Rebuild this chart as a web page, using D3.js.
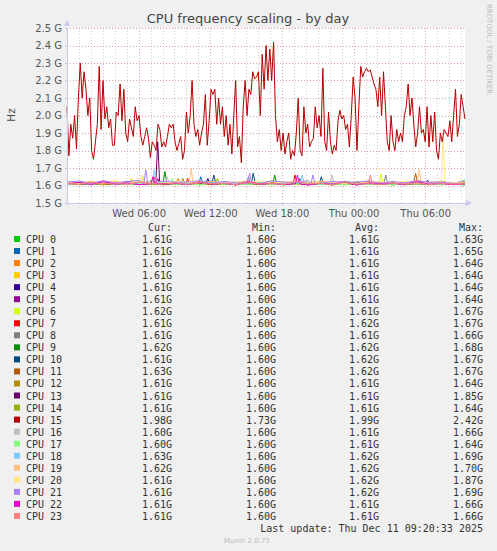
<!DOCTYPE html>
<html>
<head>
<meta charset="utf-8">
<script src="https://cdn.jsdelivr.net/npm/d3@7"></script>
<style>
  body { margin: 0; background: #f0f0f0; }
  text { font-family: "DejaVu Sans", sans-serif; }
  .mono { font-family: "DejaVu Sans Mono", monospace; font-size: 10px; fill: #333; }
</style>
</head>
<body>
<script>
const cpuNames = d3.range(24).map(i => 'CPU ' + i);
const colors = ['#00CC00', '#0066B3', '#FF8000', '#FFCC00', '#330099', '#990099', '#CCFF00', '#FF0000',
  '#808080', '#008F00', '#00487D', '#B35A00', '#B38F00', '#6B006B', '#8FB300', '#B30000',
  '#BEBEBE', '#80FF80', '#80C9FF', '#FFC080', '#FFE680', '#AA80FF', '#EE00CC', '#FF8080'];

const curVals = ['1.61G', '1.61G', '1.61G', '1.61G', '1.61G', '1.61G', '1.62G', '1.61G', '1.61G', '1.62G', '1.61G', '1.63G',
  '1.61G', '1.61G', '1.61G', '1.98G', '1.60G', '1.60G', '1.63G', '1.62G', '1.61G', '1.61G', '1.61G', '1.61G'];
const minVals = ['1.60G', '1.60G', '1.60G', '1.60G', '1.60G', '1.60G', '1.60G', '1.60G', '1.60G', '1.60G', '1.60G', '1.60G',
  '1.60G', '1.60G', '1.60G', '1.73G', '1.60G', '1.60G', '1.60G', '1.60G', '1.60G', '1.60G', '1.60G', '1.60G'];
const avgVals = ['1.61G', '1.61G', '1.61G', '1.61G', '1.61G', '1.61G', '1.61G', '1.62G', '1.61G', '1.62G', '1.62G', '1.62G',
  '1.61G', '1.61G', '1.61G', '1.99G', '1.61G', '1.61G', '1.62G', '1.62G', '1.62G', '1.62G', '1.61G', '1.61G'];
const maxVals = ['1.63G', '1.65G', '1.64G', '1.64G', '1.64G', '1.64G', '1.67G', '1.67G', '1.66G', '1.68G', '1.67G', '1.67G',
  '1.64G', '1.85G', '1.64G', '2.42G', '1.66G', '1.64G', '1.69G', '1.70G', '1.87G', '1.69G', '1.66G', '1.66G'];

// CPU 15, GHz, evenly spaced from Wed 00:00 to Thu 09:20
const cpu15 = [2.05, 1.77, 1.95, 1.87, 2.0, 1.81, 2.1, 2.3, 2.1, 2.25, 2.15, 2.0, 2.1, 1.8, 1.75, 1.85, 1.95, 2.28, 1.92, 2.2,
  1.98, 2.05, 1.93, 1.98, 1.83, 1.83, 2.02, 2.0, 2.18, 1.97, 2.15, 1.9, 1.85, 1.98, 1.93, 1.88, 2.05, 1.97, 2.0, 1.88,
  1.83, 1.88, 1.93, 1.87, 1.76, 1.85, 1.83, 1.8, 1.95, 1.92, 1.82, 1.85, 1.82, 1.88, 1.95, 1.93, 1.95, 1.85, 1.8, 1.84,
  1.88, 1.75, 1.8, 2.02, 1.9, 2.0, 2.2, 1.95, 1.88, 1.92, 1.83, 1.9, 1.95, 2.12, 1.83, 1.97, 2.15, 2.12, 2.15, 1.95,
  2.1, 1.95, 2.05, 1.88, 2.0, 1.83, 1.95, 1.78, 2.0, 2.2, 1.82, 1.88, 1.73, 2.05, 2.2, 2.0, 2.15, 2.12, 2.25, 2.21,
  2.22, 2.25, 2.0, 2.35, 2.15, 2.4, 2.2, 2.38, 2.2, 2.42, 2.0, 1.85, 1.92, 1.8, 1.9, 1.78, 1.85, 1.9, 1.75, 1.8,
  1.77, 1.9, 2.1, 1.8, 1.77, 2.05, 1.9, 1.95, 1.82, 1.85, 1.87, 2.05, 1.93, 2.0, 1.88, 2.27, 1.85, 1.8, 2.02, 1.85,
  1.78, 1.83, 1.8, 1.97, 2.03, 1.98, 2.0, 1.92, 1.95, 1.82, 2.0, 2.22, 2.1, 1.8, 2.05, 2.28, 2.22, 2.25, 2.27, 2.25,
  2.26, 2.22, 2.18, 2.15, 2.05, 2.22, 2.0, 2.25, 2.05, 1.85, 1.8, 2.0, 1.85, 1.8, 1.92, 1.85, 1.9, 1.85, 2.0, 2.05,
  2.18, 2.0, 2.1, 1.95, 1.82, 1.9, 2.05, 1.9, 1.92, 1.85, 2.05, 1.82, 2.0, 1.85, 2.02, 1.8, 1.75, 1.9, 1.85, 1.92,
  1.9, 1.88, 1.97, 1.85, 2.0, 2.15, 1.88, 1.95, 2.12, 2.05, 1.98];

// other CPUs, MHz, evenly spaced over the same period
const cpu0 = [1610, 1605, 1615, 1612, 1608, 1618, 1612, 1614, 1606, 1610, 1618, 1604, 1612, 1616, 1608, 1606, 1615, 1609, 1604, 1612, 1614, 1607, 1611, 1605, 1616, 1608, 1612, 1603, 1614, 1610, 1606, 1614, 1608, 1610];
const cpu1 = [1608, 1612, 1604, 1614, 1610, 1606, 1615, 1609, 1615, 1605, 1612, 1616, 1607, 1611, 1604, 1614, 1609, 1606, 1613, 1616, 1605, 1612, 1608, 1615, 1604, 1610, 1614, 1606, 1611, 1607, 1614, 1605, 1610, 1609];
const cpu2 = [1612, 1616, 1608, 1605, 1617, 1610, 1606, 1614, 1609, 1618, 1605, 1611, 1607, 1615, 1604, 1612, 1608, 1616, 1606, 1610, 1604, 1614, 1609, 1612, 1605, 1617, 1608, 1611, 1606, 1615, 1609, 1604, 1612, 1610];
const cpu3 = [1606, 1610, 1616, 1608, 1612, 1618, 1605, 1611, 1615, 1604, 1610, 1607, 1614, 1605, 1612, 1609, 1617, 1606, 1611, 1604, 1615, 1608, 1612, 1605, 1610, 1616, 1607, 1611, 1609, 1618, 1604, 1612, 1608, 1610];
const cpu4 = [1604, 1610, 1606, 1615, 1609, 1612, 1605, 1616, 1608, 1611, 1606, 1618, 1604, 1612, 1607, 1615, 1605, 1610, 1608, 1614, 1606, 1611, 1604, 1616, 1609, 1607, 1612, 1605, 1610, 1606, 1617, 1608, 1611, 1610];
const cpu5 = [1610, 1606, 1612, 1604, 1616, 1608, 1611, 1618, 1605, 1610, 1607, 1614, 1606, 1612, 1604, 1616, 1609, 1611, 1606, 1613, 1605, 1610, 1608, 1617, 1604, 1612, 1607, 1610, 1606, 1614, 1605, 1611, 1608, 1610];
const cpu6 = [1612, 1608, 1617, 1605, 1611, 1607, 1619, 1604, 1612, 1609, 1615, 1606, 1610, 1605, 1616, 1608, 1612, 1604, 1618, 1607, 1611, 1606, 1614, 1605, 1610, 1608, 1619, 1604, 1612, 1607, 1611, 1606, 1615, 1620];
const cpu7 = [1615, 1608, 1618, 1610, 1605, 1620, 1612, 1607, 1618, 1609, 1622, 1606, 1618, 1611, 1605, 1620, 1610, 1615, 1607, 1622, 1612, 1608, 1618, 1605, 1620, 1611, 1607, 1618, 1610, 1622, 1606, 1615, 1609, 1610];
const cpu8 = [1608, 1612, 1606, 1616, 1609, 1611, 1605, 1618, 1607, 1612, 1604, 1616, 1609, 1610, 1606, 1619, 1605, 1612, 1608, 1614, 1606, 1611, 1604, 1617, 1609, 1607, 1619, 1605, 1612, 1608, 1611, 1606, 1614, 1610];
const cpu9 = [1620, 1610, 1622, 1612, 1608, 1624, 1615, 1610, 1625, 1612, 1618, 1609, 1622, 1611, 1607, 1624, 1612, 1625, 1609, 1620, 1611, 1615, 1608, 1624, 1612, 1618, 1610, 1622, 1609, 1615, 1611, 1624, 1610, 1620];
const cpu10 = [1612, 1620, 1609, 1622, 1611, 1615, 1608, 1624, 1612, 1618, 1609, 1622, 1625, 1615, 1610, 1624, 1612, 1620, 1608, 1622, 1611, 1624, 1609, 1618, 1612, 1622, 1610, 1615, 1608, 1624, 1612, 1620, 1609, 1610];
const cpu11 = [1615, 1622, 1610, 1624, 1612, 1620, 1608, 1625, 1611, 1618, 1609, 1624, 1612, 1620, 1610, 1622, 1609, 1624, 1612, 1618, 1608, 1625, 1611, 1620, 1609, 1622, 1612, 1618, 1610, 1625, 1611, 1620, 1609, 1630];
const cpu12 = [1606, 1612, 1608, 1615, 1605, 1616, 1609, 1611, 1604, 1618, 1607, 1612, 1605, 1616, 1609, 1611, 1606, 1617, 1604, 1612, 1608, 1615, 1605, 1611, 1609, 1616, 1606, 1612, 1604, 1618, 1608, 1611, 1606, 1610];
const cpu13 = [1608, 1611, 1606, 1615, 1609, 1612, 1605, 1614, 1608, 1612, 1606, 1614, 1609, 1611, 1605, 1616, 1608, 1612, 1606, 1615, 1604, 1611, 1609, 1613, 1605, 1616, 1608, 1612, 1606, 1611, 1609, 1614, 1605, 1610];
const cpu14 = [1610, 1606, 1614, 1608, 1616, 1605, 1611, 1609, 1615, 1606, 1612, 1604, 1618, 1608, 1611, 1606, 1614, 1605, 1610, 1616, 1608, 1611, 1604, 1615, 1609, 1612, 1606, 1617, 1605, 1611, 1608, 1614, 1606, 1610];
const cpu16 = [1606, 1612, 1608, 1616, 1605, 1615, 1609, 1611, 1618, 1607, 1612, 1605, 1616, 1609, 1611, 1606, 1618, 1604, 1612, 1608, 1615, 1605, 1619, 1609, 1612, 1606, 1616, 1604, 1611, 1608, 1615, 1605, 1610, 1600];
const cpu17 = [1608, 1614, 1606, 1612, 1616, 1605, 1611, 1609, 1618, 1606, 1612, 1604, 1615, 1608, 1611, 1606, 1616, 1605, 1612, 1609, 1617, 1606, 1611, 1604, 1614, 1608, 1612, 1605, 1616, 1609, 1611, 1606, 1612, 1600];
const cpu18 = [1615, 1622, 1610, 1624, 1612, 1620, 1609, 1626, 1611, 1622, 1608, 1625, 1612, 1618, 1610, 1624, 1609, 1622, 1612, 1626, 1608, 1620, 1611, 1622, 1609, 1618, 1612, 1624, 1610, 1622, 1611, 1620, 1609, 1630];
const cpu19 = [1620, 1612, 1624, 1615, 1626, 1610, 1625, 1618, 1622, 1611, 1628, 1615, 1624, 1612, 1620, 1626, 1610, 1622, 1615, 1625, 1612, 1624, 1618, 1620, 1611, 1626, 1615, 1622, 1612, 1628, 1620, 1624, 1612, 1620];
const cpu20 = [1615, 1624, 1610, 1622, 1626, 1612, 1628, 1620, 1611, 1625, 1615, 1622, 1610, 1624, 1612, 1620, 1626, 1611, 1622, 1615, 1628, 1612, 1620, 1610, 1624, 1615, 1622, 1612, 1626, 1620, 1611, 1625, 1615, 1610];
const cpu21 = [1620, 1626, 1612, 1628, 1615, 1622, 1630, 1612, 1626, 1618, 1620, 1628, 1611, 1624, 1615, 1630, 1612, 1626, 1620, 1615, 1628, 1611, 1624, 1618, 1620, 1626, 1612, 1622, 1615, 1628, 1618, 1620, 1611, 1610];
const cpu22 = [1610, 1618, 1606, 1622, 1608, 1615, 1605, 1624, 1611, 1612, 1606, 1620, 1608, 1612, 1605, 1622, 1609, 1611, 1606, 1624, 1604, 1612, 1608, 1620, 1605, 1615, 1609, 1612, 1606, 1622, 1608, 1611, 1605, 1610];
const cpu23 = [1612, 1606, 1618, 1609, 1615, 1605, 1620, 1611, 1608, 1614, 1606, 1622, 1609, 1612, 1605, 1618, 1608, 1611, 1606, 1624, 1609, 1612, 1605, 1618, 1608, 1624, 1606, 1611, 1609, 1615, 1605, 1612, 1608, 1610];

// short peaks of the other CPUs: [cpu index, hour after Wed 00:00, MHz]
const peaks = [
  [0, 7.0, 1630], [1, 11.2, 1650], [1, 19.5, 1640], [2, 9.3, 1640], [3, 5.4, 1640], [3, 29.6, 1635],
  [4, 11.8, 1640], [4, 30.2, 1630], [5, 7.6, 1640], [6, 6.4, 1650], [6, 26.3, 1667], [7, 10.1, 1640],
  [7, 19.1, 1660], [8, 15.2, 1650], [8, 26.7, 1660], [9, 8.2, 1680], [9, 17.4, 1660], [10, 12.3, 1660],
  [10, 15.6, 1670], [10, 21.3, 1650], [11, 7.3, 1650], [11, 29.2, 1670], [12, 9.7, 1640], [13, 7.6, 1850],
  [14, 12.6, 1640], [16, 8.4, 1650], [16, 22.2, 1660], [17, 8.8, 1640], [18, 7.3, 1690], [18, 19.7, 1660],
  [19, 10.4, 1700], [19, 29.5, 1690], [20, 6.3, 1660], [20, 31.5, 1870], [21, 6.6, 1690], [21, 15.3, 1670],
  [21, 20.6, 1660], [22, 7.2, 1650], [22, 19.3, 1660], [23, 25.4, 1660]];

const others = [cpu0, cpu1, cpu2, cpu3, cpu4, cpu5, cpu6, cpu7, cpu8, cpu9, cpu10, cpu11, cpu12, cpu13, cpu14, null,
  cpu16, cpu17, cpu18, cpu19, cpu20, cpu21, cpu22, cpu23];

const yTicks = [1.5, 1.6, 1.7, 1.8, 1.9, 2.0, 2.1, 2.2, 2.3, 2.4, 2.5];

const W = 497, H = 551;
const plot = { left: 67, right: 465, top: 28, bottom: 203 };
const t0 = new Date(2025, 11, 10, 0, 0);
const t1 = new Date(2025, 11, 11, 9, 20);
const HOUR = 3600 * 1000;

const svg = d3.select('body').append('svg').attr('width', W).attr('height', H);
svg.append('rect').attr('width', W).attr('height', H).attr('fill', '#f0f0f0');

const x = d3.scaleTime().domain([t0, t1]).range([plot.left, plot.right]);
const y = d3.scaleLinear().domain([1.5, 2.5]).range([plot.bottom, plot.top]);

svg.append('rect')
  .attr('x', plot.left).attr('y', plot.top)
  .attr('width', plot.right - plot.left).attr('height', plot.bottom - plot.top)
  .attr('fill', '#fff');

// grid
const hours = d3.timeHour.range(d3.timeHour.offset(t0, 1), t1);
svg.append('g').selectAll('line').data(hours).enter().append('line')
  .attr('x1', d => Math.round(x(d)) + 0.5).attr('x2', d => Math.round(x(d)) + 0.5)
  .attr('y1', plot.top).attr('y2', plot.bottom)
  .attr('stroke', d => d.getHours() % 6 === 0 ? '#e0a8a8' : '#dcc8c8')
  .attr('stroke-dasharray', '1,2');
svg.append('g').selectAll('line').data(yTicks.slice(1)).enter().append('line')
  .attr('x1', plot.left).attr('x2', plot.right)
  .attr('y1', d => Math.round(y(d)) + 0.5).attr('y2', d => Math.round(y(d)) + 0.5)
  .attr('stroke', '#e0a0a0').attr('stroke-dasharray', '1,2');

// series
const span = t1 - t0;
const line = d3.line().x(d => x(d[0])).y(d => y(d[1]));
others.forEach((arr, i) => {
  if (!arr) return;
  let pts = arr.map((v, j) => [+t0 + j * span / (arr.length - 1), v / 1000]);
  peaks.filter(p => p[0] === i).forEach(p => {
    const tc = +t0 + p[1] * HOUR;
    pts.push([tc - HOUR / 6, 1.61], [tc, p[2] / 1000], [tc + HOUR / 6, 1.61]);
  });
  pts = pts.filter((p, k, all) => !peaks.some(q => q[0] === i && Math.abs(+t0 + q[1] * HOUR - p[0]) < HOUR / 6 - 1) || p[1] > 1.625 || k >= arr.length);
  pts.sort((a, b) => a[0] - b[0]);
  svg.append('path').attr('d', line(pts.map(p => [new Date(p[0]), p[1]]))).attr('fill', 'none')
    .attr('stroke', colors[i]).attr('stroke-width', 1);
});
const pts15 = cpu15.map((v, j) => [new Date(+t0 + j * span / (cpu15.length - 1)), v]);
svg.append('path').attr('d', line(pts15)).attr('fill', 'none')
  .attr('stroke', colors[15]).attr('stroke-width', 1);

// axes
const yAxis = svg.append('g').attr('transform', `translate(${plot.left},0)`)
  .call(d3.axisLeft(y).tickValues(yTicks).tickSize(2).tickFormat(d => d3.format('.1f')(d) + ' G'));
const xAxis = svg.append('g').attr('transform', `translate(0,${plot.bottom})`)
  .call(d3.axisBottom(x).ticks(d3.timeHour.every(6)).tickSize(2).tickFormat(d3.timeFormat('%a %H:%M')));
[yAxis, xAxis].forEach(g => {
  g.select('.domain').attr('stroke', '#c8c8e8');
  g.selectAll('line').attr('stroke', '#c8c8e8');
  g.selectAll('text').attr('fill', '#555').style('font-size', '10px').style('font-family', 'DejaVu Sans');
});
xAxis.selectAll('text').attr('dy', '0.9em');
xAxis.selectAll('.tick').filter(d => d.getHours() === 0 && d.getDate() === 10).remove();
svg.append('path').attr('d', `M${plot.left - 3},${plot.top - 2}l3,-6l3,6z`).attr('fill', '#c8c8f0');
svg.append('path').attr('d', `M${plot.right + 1},${plot.bottom - 3}l6,3l-6,3z`).attr('fill', '#c8c8f0');

// titles
svg.append('text').attr('x', 248).attr('y', 23).attr('text-anchor', 'middle')
  .style('font-size', '13px').attr('fill', '#444').text('CPU frequency scaling - by day');
svg.append('text').attr('transform', 'translate(15,115) rotate(-90)').attr('text-anchor', 'middle')
  .style('font-size', '10.5px').attr('fill', '#444').text('Hz');
svg.append('text').attr('transform', 'translate(487,4) rotate(90)')
  .style('font-size', '7px').attr('fill', '#bbb').text('RRDTOOL / TOBI OETIKER');

// legend
const cols = [172, 276, 379, 483];
['Cur:', 'Min:', 'Avg:', 'Max:'].forEach((h, i) => {
  svg.append('text').attr('class', 'mono').attr('x', cols[i]).attr('y', 231)
    .attr('text-anchor', 'end').text(h);
});
const rows = svg.append('g').selectAll('g').data(cpuNames).enter().append('g')
  .attr('transform', (d, i) => `translate(0,${243 + i * 12.04})`);
rows.append('rect').attr('x', 14).attr('y', -7).attr('width', 6).attr('height', 6)
  .attr('fill', (d, i) => colors[i]);
rows.append('text').attr('class', 'mono').attr('x', 26).text(d => d);
[curVals, minVals, avgVals, maxVals].forEach((vals, c) => {
  rows.append('text').attr('class', 'mono').attr('x', cols[c]).attr('text-anchor', 'end')
    .text((d, i) => vals[i]);
});
svg.append('text').attr('class', 'mono').attr('x', 483).attr('y', 532).attr('text-anchor', 'end')
  .text('Last update: Thu Dec 11 09:20:33 2025');
svg.append('text').attr('x', 224).attr('y', 543).style('font-size', '7px').attr('fill', '#bbb')
  .text('Munin 2.0.73');
</script>
</body>
</html>
